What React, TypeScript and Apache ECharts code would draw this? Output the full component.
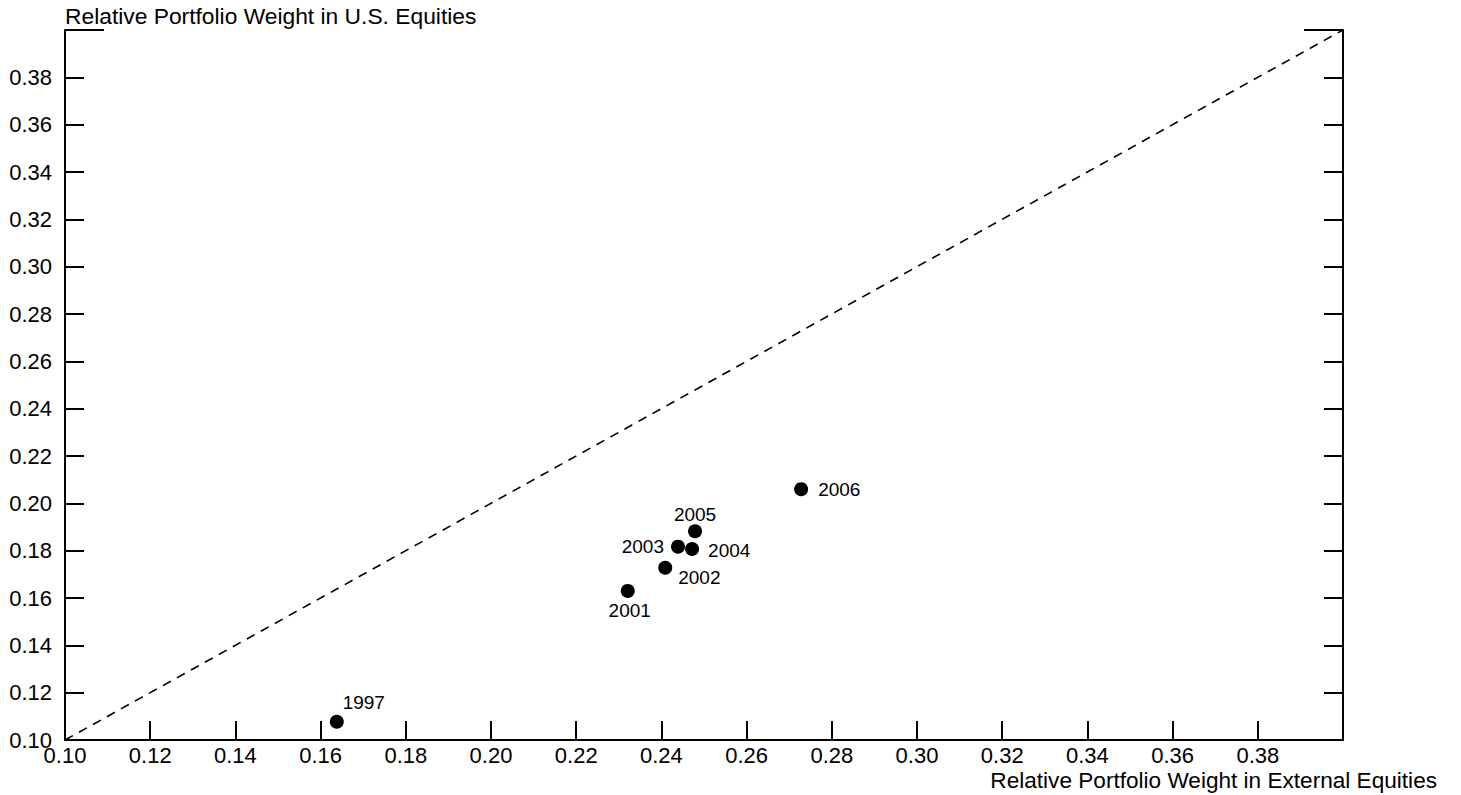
import React, { useEffect, useRef } from "react";
import * as echarts from "echarts";

const years = ["1997", "2001", "2002", "2003", "2004", "2005", "2006"];
const externalWeight = [0.1638, 0.2321, 0.2409, 0.2439, 0.2472, 0.2479, 0.2728];
const usWeight = [0.1077, 0.163, 0.1728, 0.1817, 0.1807, 0.1882, 0.206];
const labelPositions = ["top", "bottom", "right", "left", "right", "top", "right"];
const labelOffsets = [[27, 2], [2, -2], [1, 10], [-2, 0], [4, 1], [0, 5], [5, 0]];
const axisMin = 0.1;
const axisMax = 0.4;
const axisStep = 0.02;
const diagonal = [[0.1, 0.1], [0.4, 0.4]];
const xTitle = "Relative Portfolio Weight in External Equities";
const yTitle = "Relative Portfolio Weight in U.S. Equities";

const FONT = "'Liberation Sans', Arial, Helvetica, sans-serif";
const GRID = { left: 65, right: 118, top: 30, bottom: 55 };
const W = 1461;
const H = 795;

export default function App() {
  const ref = useRef<HTMLDivElement>(null);
  useEffect(() => {
    if (!ref.current) return;
    const chart = echarts.init(ref.current, null, { renderer: "svg" });
    const fmt = (v: number) => (v > axisMax - 0.001 ? "" : v.toFixed(2));
    const plotRight = W - GRID.right;
    chart.setOption({
      animation: false,
      backgroundColor: "#fff",
      grid: { ...GRID, containLabel: false },
      xAxis: {
        type: "value",
        min: axisMin,
        max: axisMax,
        interval: axisStep,
        axisLine: { show: true, onZero: false, lineStyle: { color: "#000", width: 2 } },
        axisTick: { show: true, inside: true, length: 19, lineStyle: { color: "#000", width: 2 } },
        axisLabel: { formatter: fmt, color: "#000", fontSize: 22, lineHeight: 16, fontFamily: FONT, margin: 7.5 },
        splitLine: { show: false },
      },
      yAxis: [
        {
          type: "value",
          min: axisMin,
          max: axisMax,
          interval: axisStep,
          position: "left",
          axisLine: { show: true, onZero: false, lineStyle: { color: "#000", width: 2 } },
          axisTick: { show: true, inside: true, length: 19, lineStyle: { color: "#000", width: 2 } },
          axisLabel: { formatter: fmt, color: "#000", fontSize: 22, lineHeight: 18, fontFamily: FONT, margin: 13 },
          splitLine: { show: false },
        },
        {
          type: "value",
          min: axisMin,
          max: axisMax,
          interval: axisStep,
          position: "right",
          axisLine: { show: true, onZero: false, lineStyle: { color: "#000", width: 2 } },
          axisTick: { show: true, inside: true, length: 19, lineStyle: { color: "#000", width: 2 } },
          axisLabel: { show: false },
          splitLine: { show: false },
        },
      ],
      graphic: [
        {
          type: "line",
          shape: { x1: GRID.left, y1: GRID.top, x2: GRID.left + 39, y2: GRID.top },
          style: { stroke: "#000", lineWidth: 2 },
        },
        {
          type: "line",
          shape: { x1: plotRight - 39, y1: GRID.top, x2: plotRight, y2: GRID.top },
          style: { stroke: "#000", lineWidth: 2 },
        },
        {
          type: "text",
          left: GRID.left,
          top: 4,
          style: { text: yTitle, fill: "#000", fontSize: 22.8, fontFamily: FONT },
        },
        {
          type: "text",
          right: 24,
          top: 768.5,
          style: { text: xTitle, fill: "#000", fontSize: 22.6, lineHeight: 18, fontFamily: FONT },
        },
      ],
      series: [
        {
          type: "line",
          data: diagonal,
          symbol: "none",
          silent: true,
          lineStyle: { color: "#000", width: 1.6, type: [9, 7] },
        },
        {
          type: "scatter",
          symbol: "circle",
          symbolSize: 14,
          itemStyle: { color: "#000", opacity: 1 },
          data: externalWeight.map((x, i) => ({
            value: [x, usWeight[i]],
            label: {
              show: true,
              formatter: years[i],
              position: labelPositions[i],
              offset: labelOffsets[i],
              distance: 5,
              color: "#000",
              fontSize: 19,
              fontFamily: FONT,
            },
          })),
        },
      ],
    });
    return () => chart.dispose();
  }, []);
  return <div ref={ref} style={{ width: W, height: H, position: "absolute", left: 0, top: 0 }} />;
}
